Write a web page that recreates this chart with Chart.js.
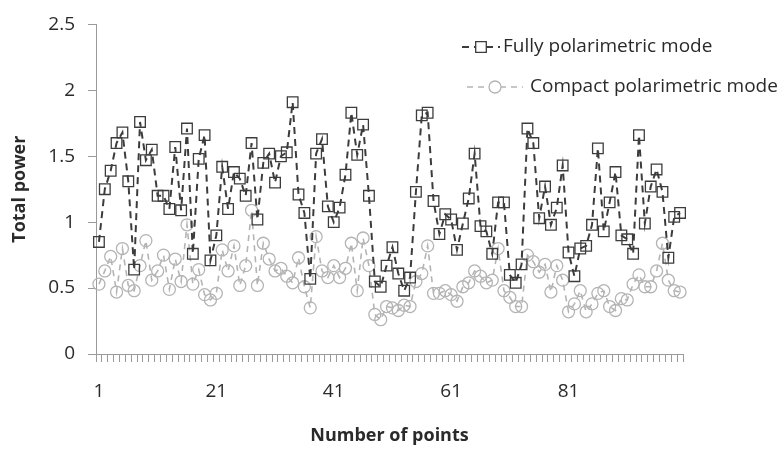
<!DOCTYPE html>
<html><head><meta charset="utf-8">
<script src="https://cdn.jsdelivr.net/npm/chart.js@4.4.1/dist/chart.umd.min.js"></script>
<style>html,body{margin:0;padding:0;background:#fff}#wrap{width:784px;height:449px;position:relative}</style>
</head><body><div id="wrap"><canvas id="c" width="784" height="449"></canvas></div>
<script>
// categories: point numbers 1..100
const pointNumbers = Array.from({length: 100}, (_, i) => String(i + 1));
const labeledPoints = ['1', '21', '41', '61', '81'];
const yTicks = [0, 0.5, 1, 1.5, 2, 2.5];
const seriesNames = ['Fully polarimetric mode', 'Compact polarimetric mode'];

const fullyPolarimetric = [
  0.85, 1.25, 1.39, 1.60, 1.68, 1.31, 0.64, 1.76, 1.47, 1.55,
  1.20, 1.20, 1.10, 1.57, 1.09, 1.71, 0.76, 1.48, 1.66, 0.71,
  0.90, 1.42, 1.10, 1.38, 1.33, 1.20, 1.60, 1.02, 1.45, 1.52,
  1.30, 1.50, 1.53, 1.91, 1.21, 1.07, 0.57, 1.52, 1.63, 1.12,
  1.00, 1.11, 1.36, 1.83, 1.51, 1.74, 1.20, 0.55, 0.51, 0.67,
  0.81, 0.61, 0.48, 0.58, 1.23, 1.81, 1.83, 1.16, 0.91, 1.06,
  1.02, 0.79, 0.99, 1.18, 1.52, 0.97, 0.93, 0.76, 1.15, 1.15,
  0.60, 0.54, 0.68, 1.71, 1.60, 1.03, 1.27, 0.98, 1.11, 1.43,
  0.77, 0.59, 0.80, 0.82, 0.98, 1.56, 0.93, 1.15, 1.38, 0.90,
  0.87, 0.76, 1.66, 0.99, 1.27, 1.40, 1.23, 0.73, 1.04, 1.07
];
const compactPolarimetric = [
  0.53, 0.63, 0.74, 0.47, 0.80, 0.52, 0.48, 0.67, 0.86, 0.56,
  0.63, 0.75, 0.49, 0.72, 0.55, 0.98, 0.53, 0.64, 0.45, 0.41,
  0.46, 0.79, 0.63, 0.82, 0.52, 0.67, 1.09, 0.52, 0.84, 0.72,
  0.63, 0.65, 0.59, 0.54, 0.73, 0.51, 0.35, 0.89, 0.63, 0.58,
  0.67, 0.58, 0.65, 0.84, 0.48, 0.88, 0.67, 0.30, 0.26, 0.36,
  0.35, 0.33, 0.37, 0.36, 0.55, 0.61, 0.82, 0.46, 0.46, 0.48,
  0.45, 0.40, 0.51, 0.54, 0.63, 0.59, 0.54, 0.56, 0.80, 0.48,
  0.43, 0.36, 0.36, 0.75, 0.70, 0.62, 0.68, 0.47, 0.67, 0.56,
  0.32, 0.38, 0.48, 0.32, 0.38, 0.46, 0.48, 0.36, 0.33, 0.42,
  0.41, 0.53, 0.60, 0.51, 0.51, 0.63, 0.84, 0.56, 0.48, 0.47
];

const FONT = "'Open Sans', 'Liberation Sans', sans-serif";
const AXIS_COLOR = '#9a9a9a';
const TEXT_COLOR = '#2a2a2a';

// legend layout: [lineStart, markerX, lineEnd, textX, y]
const legendRows = [
  [462, 481, 500, 503, 47],
  [467, 495, 523, 530, 87]
];

const legendPlugin = {
  id: 'customLegend',
  afterDraw(chart) {
    const ctx = chart.ctx;
    chart.data.datasets.forEach((ds, i) => {
      const [x0, cx, x1, tx, y] = legendRows[i];
      ctx.save();
      ctx.strokeStyle = ds.borderColor;
      ctx.lineWidth = ds.borderWidth;
      ctx.setLineDash(ds.borderDash);
      ctx.beginPath();
      ctx.moveTo(x0, y);
      ctx.lineTo(x1, y);
      ctx.stroke();
      ctx.setLineDash([]);
      ctx.lineWidth = ds.pointBorderWidth;
      ctx.strokeStyle = ds.pointBorderColor;
      ctx.fillStyle = '#fff';
      ctx.beginPath();
      if (ds.pointStyle === 'rect') {
        const s = ds.pointRadius * Math.SQRT1_2;
        ctx.rect(cx - s, y - s, 2 * s, 2 * s);
      } else {
        ctx.arc(cx, y, ds.pointRadius, 0, Math.PI * 2);
      }
      ctx.fill();
      ctx.stroke();
      ctx.fillStyle = TEXT_COLOR;
      ctx.font = '19px ' + FONT;
      ctx.textBaseline = 'middle';
      ctx.textAlign = 'left';
      ctx.fillText(ds.label, tx, y);
      ctx.restore();
    });
  }
};

new Chart(document.getElementById('c'), {
  type: 'line',
  data: {
    labels: pointNumbers,
    datasets: [
      {
        label: seriesNames[0],
        data: fullyPolarimetric,
        borderColor: '#3c3c3c',
        borderWidth: 2,
        borderDash: [7, 5],
        pointStyle: 'rect',
        pointRadius: 7.5,
        pointBorderColor: '#3c3c3c',
        pointBorderWidth: 1.3,
        pointBackgroundColor: 'rgba(255,255,255,0)',
        tension: 0
      },
      {
        label: seriesNames[1],
        data: compactPolarimetric,
        borderColor: '#b4b4b4',
        borderWidth: 1.6,
        borderDash: [6, 5],
        pointStyle: 'circle',
        pointRadius: 6,
        pointBorderColor: '#b4b4b4',
        pointBorderWidth: 1.3,
        pointBackgroundColor: 'rgba(255,255,255,0)',
        tension: 0
      }
    ]
  },
  options: {
    responsive: false,
    animation: false,
    devicePixelRatio: 1,
    layout: { padding: { top: 18, right: 101, left: 0, bottom: 0 } },
    plugins: { legend: { display: false }, tooltip: { enabled: false } },
    scales: {
      x: {
        type: 'category',
        offset: true,
        afterFit: (s) => { s.height = 95; },
        grid: { offset: true, drawOnChartArea: false, drawTicks: true, tickLength: 8, color: AXIS_COLOR, lineWidth: 1 },
        border: { display: true, color: AXIS_COLOR, width: 1 },
        ticks: {
          autoSkip: false, maxRotation: 0, minRotation: 0, padding: 18,
          color: TEXT_COLOR, font: { family: FONT, size: 19 },
          callback: function (v) { const l = this.getLabelForValue(v); return labeledPoints.includes(l) ? l : ''; }
        },
        title: { display: true, text: 'Number of points', color: TEXT_COLOR, font: { family: FONT, size: 18, weight: 'bold' }, padding: { top: 0, bottom: 2 } }
      },
      y: {
        min: yTicks[0], max: yTicks[yTicks.length - 1],
        afterFit: (s) => { s.width = 96; },
        afterBuildTicks: (s) => { s.ticks = yTicks.map(v => ({ value: v })); },
        grid: { drawOnChartArea: false, drawTicks: true, tickLength: 8, color: AXIS_COLOR },
        border: { display: true, color: AXIS_COLOR, width: 1 },
        ticks: { padding: 13, color: TEXT_COLOR, font: { family: FONT, size: 19 }, callback: (v) => String(v) },
        title: { display: true, text: 'Total power', color: TEXT_COLOR, font: { family: FONT, size: 18, weight: 'bold' }, padding: { top: 9, bottom: 0 } }
      }
    }
  },
  plugins: [legendPlugin]
});
</script>
</body></html>
